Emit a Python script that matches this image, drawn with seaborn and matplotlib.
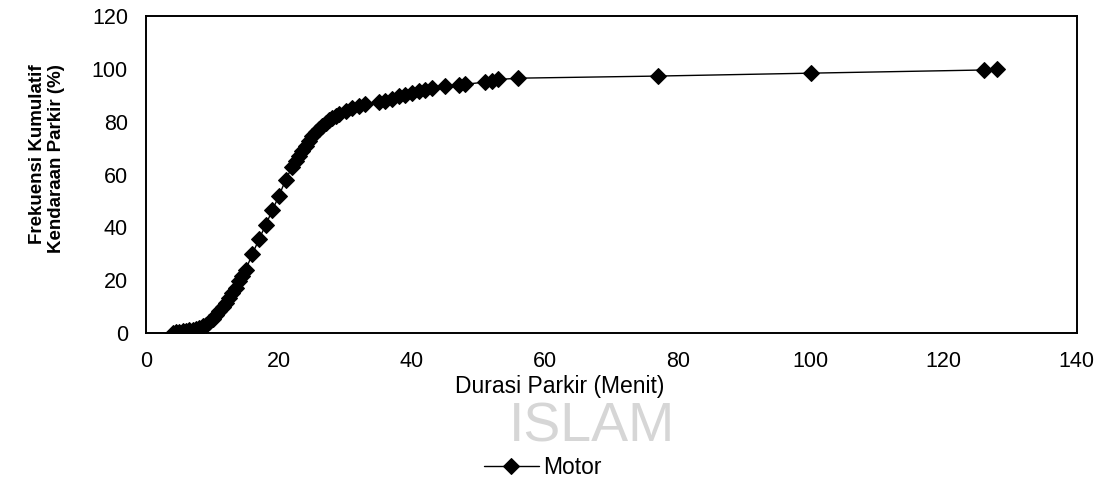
import pandas as pd
import matplotlib.pyplot as plt
import seaborn as sns

# durasi parkir (menit) vs frekuensi kumulatif (%)
durasi = [4, 4.5, 5, 5.5, 6, 6.5, 7, 7.5, 8, 8.5, 9, 9.5, 10, 10.5, 11, 11.5,
          12, 12.5, 13, 13.5, 14, 14.5, 15, 16, 17, 18, 19, 20, 21, 22, 22.5,
          23, 23.5, 24, 24.5, 25, 25.5, 26, 26.5, 27, 27.5, 28, 28.5, 29, 30,
          31, 32, 33, 35, 36, 37, 38, 39, 40, 41, 42, 43, 45, 47, 48, 51, 52,
          53, 56, 77, 100, 126, 128]
kumulatif = [0, 0.2, 0.4, 0.6, 0.8, 1.0, 1.3, 1.6, 2.0, 2.5, 3.2, 4.2, 5.4, 6.8,
             8.2, 9.8, 11.5, 13.3, 15.2, 17.2, 19.5, 21.5, 24, 30, 35.5, 41,
             46.5, 52, 58, 63, 65, 67, 69, 71, 72.8, 74.5, 76, 77.3, 78.5, 79.6,
             80.6, 81.5, 82.3, 83, 84.2, 85.2, 86, 86.7, 87.3, 88, 88.8, 89.6,
             90.3, 91, 91.6, 92.2, 92.8, 93.4, 93.8, 94.2, 95, 95.5, 96, 96.5,
             97.3, 98.4, 99.6, 100]
x_ticks = [0, 20, 40, 60, 80, 100, 120, 140]
y_ticks = [0, 20, 40, 60, 80, 100, 120]

df = pd.DataFrame({'durasi': durasi, 'kumulatif': kumulatif, 'jenis': 'Motor'})

sns.set_style('white')
plt.rcParams['font.family'] = ['Liberation Sans', 'DejaVu Sans']
plt.rcParams['text.color'] = 'black'
plt.rcParams['xtick.color'] = 'black'
plt.rcParams['ytick.color'] = 'black'

fig = plt.figure(figsize=(11.09, 4.99), dpi=100)
ax = fig.add_axes([0.1317, 0.3327, 0.8393, 0.635])

sns.lineplot(data=df, x='durasi', y='kumulatif', hue='jenis', palette=['black'],
             marker='D', markersize=8, markeredgecolor='black', linewidth=1.0,
             estimator=None, sort=False, ax=ax, legend=True)

ax.set_xlim(0, 140)
ax.set_ylim(0, 120)
ax.set_xticks(x_ticks)
ax.set_yticks(y_ticks)
ax.tick_params(axis='x', length=0, pad=13, labelsize=15.5, labelcolor='black')
ax.tick_params(axis='y', length=0, pad=13, labelsize=15.5, labelcolor='black')
for s in ax.spines.values():
    s.set_color('black')
    s.set_linewidth(1.4)
ax.set_xlabel('')
ax.set_ylabel('')

fig.text(47 / 1109, 1 - 159 / 499, 'Frekuensi Kumulatif\nKendaraan Parkir (%)',
         rotation=90, ha='center', va='center', multialignment='right',
         fontsize=13.5, fontweight='bold', linespacing=1.1, color='black')
fig.text(560 / 1109, 1 - 387 / 499, 'Durasi Parkir (Menit)',
         ha='center', va='center', fontsize=16.5, color='black')

# watermark from the scan
fig.text(592 / 1109, 1 - 428 / 499, 'ISLAM', ha='center', va='center',
         fontsize=40, color='#d6d6d6', zorder=0)

handles, labels = ax.get_legend_handles_labels()
ax.get_legend().remove()
leg = fig.legend(handles, labels, loc='center', bbox_to_anchor=(543 / 1109, 1 - 468 / 499),
                 frameon=False, fontsize=16.5, handlelength=2.4, handletextpad=0.2)
for t in leg.get_texts():
    t.set_color('black')

fig.savefig('out.png', dpi=100)
